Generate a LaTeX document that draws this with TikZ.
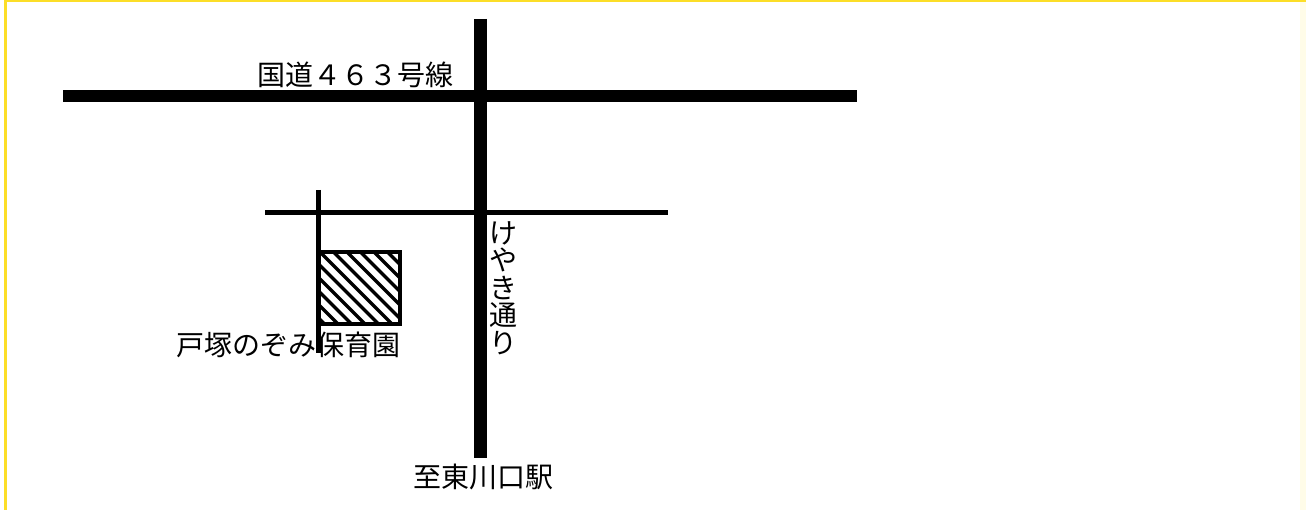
\documentclass[tikz,border=0pt]{standalone}
\usepackage{fontspec}
\newfontfamily\jp{Noto Sans CJK JP}
\definecolor{frame}{RGB}{252,222,40}
\definecolor{framepale}{RGB}{255,252,232}
\begin{document}
\begin{tikzpicture}[x=1pt,y=-1pt,
  road/.style={line width=#1, line cap=butt, draw=black},
  lbl/.style={font=\jp\fontsize{28pt}{27.5pt}\selectfont, inner sep=0pt, text=black},
  hatch/.style={line width=3.2pt, draw=black}]
\useasboundingbox (0,0) rectangle (1306,510);
\fill[white] (0,0) rectangle (1306,510);
\fill[framepale] (1300,0) rectangle (1306,510);
\fill[frame] (4,0) rectangle (7,510);
\fill[frame] (4,0) rectangle (1306,2.5);

% road end points
\coordinate (r1w) at (63,96);
\coordinate (r1e) at (857,96);
\coordinate (r2n) at (480,19);
\coordinate (r2s) at (480,458);
\coordinate (r3w) at (265,212.5);
\coordinate (r3e) at (668,212.5);
\coordinate (r4n) at (318,190);
\coordinate (r4s) at (318,353);
\coordinate (bxa) at (318,252);
\coordinate (bxb) at (400,324);

% hatching of the nursery block
\begin{scope}
  \clip (bxa) rectangle (bxb);
  \foreach \k in {-7,...,7}{
    \draw[hatch] (322+13.5*\k-20,234) -- (322+13.5*\k+100,354);
  }
\end{scope}
\draw[line width=4pt, draw=black] (bxa) rectangle (bxb);

% roads
\draw[road=12pt] (r1w) -- (r1e);
\draw[road=13pt] (r2n) -- (r2s);
\draw[road=5pt] (r3w) -- (r3e);
\draw[road=5pt] (r4n) -- (r4s);

% labels
\node[lbl] (route) at (355.5,75) {国道４６３号線};
\node[lbl] (school) at (288,345) {戸塚のぞみ保育園};
\node[lbl] (station) at (483,477) {至東川口駅};
\node[lbl, align=center] (keyaki) at (503,288) {け\\や\\き\\通\\り};
\end{tikzpicture}
\end{document}
